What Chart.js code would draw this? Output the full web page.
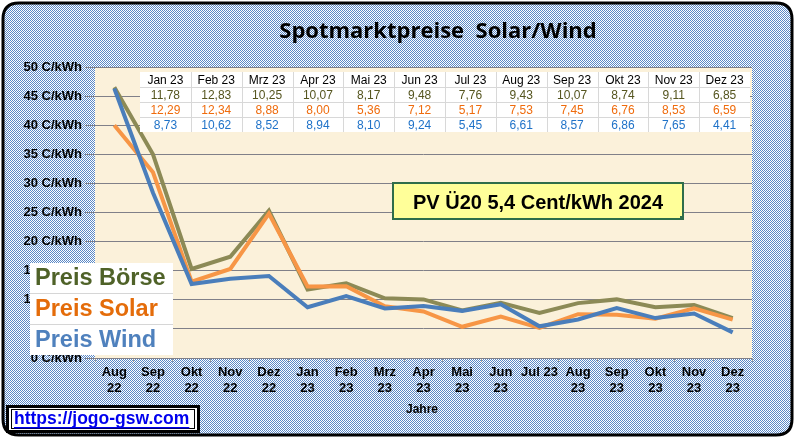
<!DOCTYPE html>
<html>
<head>
<meta charset="utf-8">
<script src="https://cdn.jsdelivr.net/npm/chart.js@4"></script>
<style>
  html, body { margin: 0; padding: 0; background: #fff; }
  #chart { display: block; }
</style>
</head>
<body>
<canvas id="chart" width="795" height="440"></canvas>
<script>
// Monate (x-Achse)
const months = [['Aug','22'],['Sep','22'],['Okt','22'],['Nov','22'],['Dez','22'],
    ['Jan','23'],['Feb','23'],['Mrz','23'],['Apr','23'],['Mai','23'],['Jun','23'],'Jul 23',
    ['Aug','23'],['Sep','23'],['Okt','23'],['Nov','23'],['Dez','23']]

// Preise in Cent/kWh
const boerse = [46.5, 35.0, 15.3, 17.4, 25.3, 11.78, 12.83, 10.25, 10.07, 8.17, 9.48, 7.76, 9.43, 10.07, 8.74, 9.11, 6.85]
const solar  = [40.0, 31.9, 13.1, 15.3, 24.8, 12.29, 12.34, 8.88, 8.00, 5.36, 7.12, 5.17, 7.53, 7.45, 6.76, 8.53, 6.59]
const wind   = [46.3, 28.4, 12.7, 13.6, 14.1, 8.73, 10.62, 8.52, 8.94, 8.10, 9.24, 5.45, 6.61, 8.57, 6.86, 7.65, 4.41]

// Tabelle oben: Monate 2023
const tableMonths = ['Jan 23','Feb 23','Mrz 23','Apr 23','Mai 23','Jun 23','Jul 23','Aug 23','Sep 23','Okt 23','Nov 23','Dez 23']
const tableStart = 5

const yTicks = [0, 5, 10, 15, 20, 25, 30, 35, 40, 45, 50]

const titleText = 'Spotmarktpreise  Solar/Wind'
const noteText = 'PV Ü20 5,4 Cent/kWh 2024'
const linkText = 'https://jogo-gsw.com'

const fmt = v => v.toFixed(2).replace('.', ',')

// blau/weiss Karomuster
const pat = document.createElement('canvas')
pat.width = 2; pat.height = 2
const pc = pat.getContext('2d')
pc.fillStyle = '#ffffff'; pc.fillRect(0, 0, 2, 2)
pc.fillStyle = '#5a88c6'; pc.fillRect(0, 0, 1, 1); pc.fillRect(1, 1, 1, 1)

const roundRect = (c, x, y, w, h, r) => {
    c.beginPath()
    c.moveTo(x + r, y)
    c.lineTo(x + w - r, y); c.quadraticCurveTo(x + w, y, x + w, y + r)
    c.lineTo(x + w, y + h - r); c.quadraticCurveTo(x + w, y + h, x + w - r, y + h)
    c.lineTo(x + r, y + h); c.quadraticCurveTo(x, y + h, x, y + h - r)
    c.lineTo(x, y + r); c.quadraticCurveTo(x, y, x + r, y)
    c.closePath()
}

const backdrop = {
    id: 'backdrop',
    beforeDraw(chart) {
        const c = chart.ctx, a = chart.chartArea
        c.save()
        c.fillStyle = '#fff'
        c.fillRect(0, 0, chart.width, chart.height)
        roundRect(c, 3, 3, 789, 432, 16)
        c.fillStyle = c.createPattern(pat, 'repeat')
        c.fill()
        c.lineWidth = 3
        c.strokeStyle = '#000'
        c.stroke()
        c.fillStyle = '#fbf1da'
        c.fillRect(a.left, a.top, a.right - a.left, a.bottom - a.top)
        // Titel
        c.fillStyle = '#000'
        c.font = 'bold 22px "Open Sans"'
        c.textAlign = 'center'
        c.textBaseline = 'middle'
        c.fillText(titleText, 438, 32)
        c.font = 'bold 12px "Liberation Sans"'
        c.fillText('Jahre', 422, 410)
        c.restore()
    }
}

const overlays = {
    id: 'overlays',
    afterDraw(chart) {
        const c = chart.ctx
        c.save()
        // Werte-Tabelle
        const tx = 140, ty = 72, tw = 610, rh = 15
        const cw = tw / tableMonths.length
        c.fillStyle = '#fff'
        c.fillRect(tx, ty, tw, rh * 4)
        c.strokeStyle = '#d8d8d8'
        c.lineWidth = 1
        for (let r = 1; r < 4; r++) {
            c.beginPath(); c.moveTo(tx, ty + r * rh + 0.5); c.lineTo(tx + tw, ty + r * rh + 0.5); c.stroke()
        }
        for (let k = 1; k < tableMonths.length; k++) {
            const x = Math.round(tx + k * cw) + 0.5
            c.beginPath(); c.moveTo(x, ty); c.lineTo(x, ty + rh * 4); c.stroke()
        }
        c.textAlign = 'center'
        c.textBaseline = 'middle'
        const rows = [[boerse, '#55551f'], [solar, '#ef6b0c'], [wind, '#1f72c8']]
        tableMonths.forEach((m, k) => {
            const cx = tx + k * cw + cw / 2
            c.font = '12px "Liberation Sans"'
            c.fillStyle = '#000'
            c.fillText(m, cx, ty + rh / 2 + 1)
            rows.forEach(([arr, col], r) => {
                c.fillStyle = col
                c.fillText(fmt(arr[tableStart + k]), cx, ty + rh * (r + 1) + rh / 2 + 1)
            })
        })

        // Legende
        c.fillStyle = '#fff'
        c.fillRect(30, 263, 143, 92)
        c.strokeStyle = '#d6d6d6'
        c.beginPath(); c.moveTo(30, 293.5); c.lineTo(173, 293.5); c.moveTo(30, 324.5); c.lineTo(173, 324.5); c.stroke()
        c.font = 'bold 23.5px "Liberation Sans"'
        c.textAlign = 'left'
        const leg = [['Preis Börse', '#4f6228'], ['Preis Solar', '#e46c0a'], ['Preis Wind', '#4f81bd']]
        leg.forEach(([t, col], i) => {
            c.fillStyle = col
            c.fillText(t, 35, 279 + i * 31)
        })

        // PV Hinweis
        c.fillStyle = '#ffff99'
        c.fillRect(393, 183, 290, 36)
        c.strokeStyle = '#2e6e4a'
        c.lineWidth = 2
        c.strokeRect(393, 183, 290, 36)
        c.fillStyle = '#2e6e4a'
        c.fillRect(680, 216, 4, 4)
        c.fillStyle = '#000'
        c.font = 'bold 20px "Liberation Sans"'
        c.textAlign = 'center'
        c.fillText(noteText, 538, 203)

        // Link
        c.fillStyle = '#fff'
        c.fillRect(6, 405, 194, 28)
        c.strokeStyle = '#000'
        c.lineWidth = 3
        c.strokeRect(7.5, 406.5, 191, 25)
        c.lineWidth = 1
        c.strokeRect(11.5, 409.5, 183, 19)
        c.fillStyle = '#0000ee'
        c.font = 'bold 17.5px "Liberation Sans"'
        c.textAlign = 'left'
        c.fillText(linkText, 14, 419)
        const lw = c.measureText(linkText).width
        c.fillRect(14, 427, lw, 1.5)
        c.restore()
    }
}

const line = (label, data, color, order) => ({
    label: label,
    data: data,
    borderColor: color,
    backgroundColor: color,
    borderWidth: 4,
    pointRadius: 0,
    tension: 0,
    fill: false,
    order: order
})

new Chart(document.querySelector('#chart').getContext('2d'), {
    type: 'line',
    data: {
        labels: months,
        datasets: [
            line('Preis Börse', boerse, '#8c8a56', 3),
            line('Preis Solar', solar, '#f79646', 2),
            line('Preis Wind', wind, '#4a7ebb', 1)
        ]
    },
    options: {
        responsive: false,
        devicePixelRatio: 1,
        animation: false,
        layout: { padding: { top: 67, right: 43, left: 0, bottom: 0 } },
        plugins: {
            legend: { display: false },
            title: { display: false },
            tooltip: { enabled: false }
        },
        scales: {
            x: {
                type: 'category',
                offset: true,
                afterFit: s => { s.height = 82 },
                border: { display: false },
                grid: { offset: true, drawOnChartArea: false, tickLength: 4, color: '#9a9a9a' },
                ticks: {
                    autoSkip: false, maxRotation: 0, padding: 3,
                    color: '#000',
                    font: { family: '"Liberation Sans"', size: 13, weight: 'bold', lineHeight: 1.2 }
                }
            },
            y: {
                min: 0, max: 50,
                afterFit: s => { s.width = 95 },
                afterBuildTicks: s => { s.ticks = yTicks.map(v => ({ value: v })) },
                border: { display: false },
                grid: { color: '#808088', tickLength: 10 },
                ticks: {
                    padding: 3,
                    color: '#000',
                    font: { family: '"Liberation Sans"', size: 13, weight: 'bold' },
                    callback: v => v + ' C/kWh'
                }
            }
        }
    },
    plugins: [backdrop, overlays]
});
</script>
</body>
</html>
